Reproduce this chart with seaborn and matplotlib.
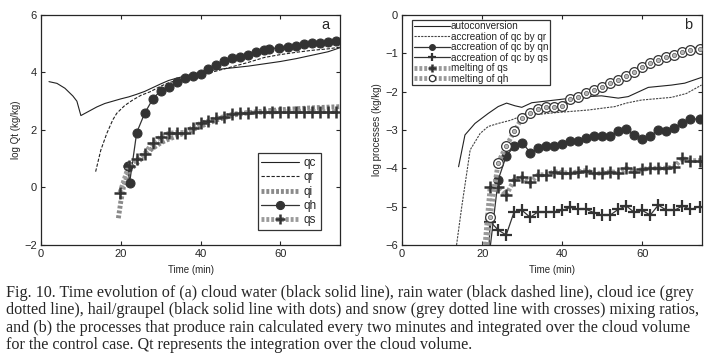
import matplotlib
matplotlib.use('Agg')
import matplotlib.pyplot as plt
import seaborn as sns

# ---- panel (a): log Qt ----
t_qc = [2, 4, 6, 8, 9, 10, 12, 14, 16, 18, 20, 22, 24, 26, 28, 30, 32, 34, 36, 40, 44, 48, 52, 56, 60, 64, 68, 72, 75]
qc = [3.68, 3.62, 3.45, 3.18, 3.0, 2.5, 2.65, 2.8, 2.92, 3.0, 3.08, 3.15, 3.24, 3.34, 3.47, 3.6, 3.72, 3.8, 3.87, 4.0, 4.1, 4.16, 4.22, 4.3, 4.38, 4.48, 4.6, 4.72, 4.86]

t_qr = [13.7, 15, 16.5, 18, 19, 21, 23, 25, 27.4, 30, 32, 36, 40, 44, 48, 52, 56, 60, 64, 68, 72, 75]
qr = [0.55, 1.3, 1.88, 2.35, 2.58, 2.85, 3.04, 3.2, 3.33, 3.52, 3.64, 3.8, 3.91, 4.05, 4.2, 4.35, 4.52, 4.62, 4.7, 4.77, 4.82, 4.88]

t_qi = [19.4, 20, 20.7, 21.5, 22.3, 24, 26, 27.4, 30, 31.5, 35.7, 39.9, 44.1, 48.3, 52, 56.7, 62, 68, 75]
qi = [-1.07, -0.5, 0.03, 0.35, 0.6, 0.84, 1.12, 1.3, 1.55, 1.65, 1.88, 2.12, 2.35, 2.52, 2.6, 2.67, 2.72, 2.77, 2.81]

t_qh = [21.8, 22.2, 24, 26, 28, 30, 32, 34, 36, 38, 40, 42, 44, 46, 48, 50, 52, 54, 56, 57.2, 59.6, 62, 64, 66, 68, 70, 72, 74]
qh = [0.76, 0.14, 1.91, 2.58, 3.07, 3.37, 3.48, 3.66, 3.8, 3.88, 3.95, 4.11, 4.26, 4.4, 4.49, 4.55, 4.62, 4.72, 4.78, 4.82, 4.86, 4.9, 4.93, 4.98, 5.01, 5.01, 5.05, 5.11]

t_qs = [19.8, 22, 24, 26, 28, 30, 32, 34, 36, 38, 40, 42, 44, 46, 48, 50, 52, 54, 56, 58, 60, 62, 64, 66, 68, 70, 72, 74]
qs = [-0.18, 0.76, 0.98, 1.17, 1.56, 1.75, 1.88, 1.91, 1.91, 2.08, 2.23, 2.31, 2.41, 2.46, 2.55, 2.58, 2.6, 2.61, 2.62, 2.63, 2.64, 2.64, 2.64, 2.64, 2.64, 2.64, 2.64, 2.64]

# ---- panel (b): log processes ----
t_auto = [14.1, 15.7, 18.2, 21.5, 24, 26.1, 28.2, 29.9, 32.4, 38.2, 42.3, 46.5, 49.8, 54, 56.5, 61.5, 67.3, 70.6, 74.8]
auto = [-3.96, -3.13, -2.83, -2.57, -2.39, -2.3, -2.37, -2.41, -2.29, -2.22, -2.17, -2.13, -2.11, -2.17, -2.13, -1.89, -1.83, -1.78, -1.63]

t_accr = [13.6, 14.9, 17, 19.5, 21.5, 24, 27, 29, 32.4, 38.2, 46.5, 53.2, 56, 59.8, 67.3, 71, 74.8]
accr = [-6.0, -5.0, -3.52, -3.09, -2.91, -2.83, -2.75, -2.67, -2.61, -2.55, -2.48, -2.39, -2.3, -2.22, -2.15, -2.05, -1.83]

t_qn = [21.5, 24, 26, 28, 30, 32, 34, 36, 38, 40, 42, 44, 46, 48, 50, 52, 54, 56, 58, 60, 62, 64, 66, 68, 70, 72, 74.5]
accr_qn = [-6.5, -4.3, -3.68, -3.43, -3.33, -3.59, -3.48, -3.43, -3.41, -3.37, -3.28, -3.3, -3.22, -3.16, -3.17, -3.16, -3.02, -2.97, -3.13, -3.24, -3.16, -3.0, -3.04, -2.94, -2.83, -2.72, -2.71]

t_qsb = [21.5, 22, 24, 26, 28, 30, 32, 34, 36, 38, 40, 42, 44, 46, 48, 50, 52, 54, 56, 58, 60, 62, 64, 66, 68, 70, 72, 74.5]
accr_qs = [-6.5, -5.39, -5.61, -5.74, -5.13, -5.1, -5.28, -5.13, -5.15, -5.13, -5.1, -5.02, -5.07, -5.07, -5.16, -5.22, -5.22, -5.07, -4.98, -5.15, -5.1, -5.22, -4.96, -5.09, -5.1, -4.98, -5.07, -5.0]

t_mqs = [20.3, 22, 24, 26, 28, 30, 32, 34, 36, 38, 40, 42, 44, 46, 48, 50, 52, 54, 56, 58, 60, 62, 64, 66, 68, 70, 72, 74.5]
melt_qs = [-6.5, -4.48, -4.48, -4.7, -4.3, -4.24, -4.37, -4.17, -4.17, -4.09, -4.11, -4.13, -4.09, -4.06, -4.13, -4.13, -4.09, -4.11, -4.0, -4.09, -4.03, -4.0, -4.0, -4.0, -3.96, -3.74, -3.8, -3.8]

t_mqh = [20.5, 22, 24, 26, 28, 30, 32, 34, 36, 38, 40, 42, 44, 46, 48, 50, 52, 54, 56, 58, 60, 62, 64, 66, 68, 70, 72, 74.5]
melt_qh = [-6.5, -5.26, -3.85, -3.43, -3.04, -2.68, -2.55, -2.46, -2.39, -2.41, -2.37, -2.2, -2.13, -2.04, -1.96, -1.87, -1.78, -1.7, -1.59, -1.48, -1.35, -1.26, -1.17, -1.1, -1.04, -0.96, -0.91, -0.89]

caption = ("Fig. 10. Time evolution of (a) cloud water (black solid line), rain water (black dashed line), cloud ice (grey\n"
           "dotted line), hail/graupel (black solid line with dots) and snow (grey dotted line with crosses) mixing ratios,\n"
           "and (b) the processes that produce rain calculated every two minutes and integrated over the cloud volume\n"
           "for the control case. Qt represents the integration over the cloud volume.")

sns.set_style('ticks')
plt.rcParams['font.family'] = ['Liberation Sans', 'DejaVu Sans']

fig = plt.figure(figsize=(7.13, 3.64), dpi=100)
ax1 = fig.add_axes([0.0575, 0.327, 0.4195, 0.632])
ax2 = fig.add_axes([0.564, 0.327, 0.421, 0.632])

hatch = (0, (0.6, 0.4))

# panel a
sns.lineplot(x=t_qc, y=qc, ax=ax1, color='#222222', linewidth=0.8, label='qc')
sns.lineplot(x=t_qr, y=qr, ax=ax1, color='#222222', linewidth=0.8, linestyle=(0, (3, 1.5)), label='qr')
sns.lineplot(x=t_qi, y=qi, ax=ax1, color='#8a8a8a', linewidth=3.5, linestyle=hatch, label='qi')
sns.lineplot(x=t_qh, y=qh, ax=ax1, color='#333333', linewidth=0.9, marker='o', markersize=6.5,
             markeredgecolor='#333333', label='qh')
sns.lineplot(x=t_qs, y=qs, ax=ax1, color='#9a9a9a', linewidth=3.5, linestyle=hatch, marker='+',
             markersize=8, markeredgewidth=1.8, markeredgecolor='#333333', label='qs')
ax1.set_xlim(0, 75)
ax1.set_ylim(-2, 6)
ax1.set_xticks([0, 20, 40, 60])
ax1.set_yticks([-2, 0, 2, 4, 6])
ax1.set_xlabel('Time (min)', fontsize=7)
ax1.set_ylabel('log Qt (kg/kg)', fontsize=7, labelpad=2)
ax1.text(0.965, 0.985, 'a', transform=ax1.transAxes, ha='right', va='top', fontsize=10.5)
leg1 = ax1.legend(loc='lower right', bbox_to_anchor=(0.935, 0.065), fontsize=8.5, frameon=True, fancybox=False,
                  edgecolor='black', handlelength=3.2, handletextpad=0.4, labelspacing=0.2, borderpad=0.3,
                  borderaxespad=0, markerscale=0.9)
leg1.get_frame().set_linewidth(0.9)

# panel b
sns.lineplot(x=t_auto, y=auto, ax=ax2, color='#222222', linewidth=0.8, label='autoconversion')
sns.lineplot(x=t_accr, y=accr, ax=ax2, color='#444444', linewidth=0.8, linestyle=(0, (2, 1)),
             label='accreation of qc by qr')
sns.lineplot(x=t_qn, y=accr_qn, ax=ax2, color='#333333', linewidth=0.9, marker='o', markersize=6.5,
             markeredgecolor='#333333', label='accreation of qc by qn')
sns.lineplot(x=t_qsb, y=accr_qs, ax=ax2, color='#333333', linewidth=0.9, marker='+', markersize=8,
             markeredgewidth=1.6, markeredgecolor='#333333', label='accreation of qc by qs')
sns.lineplot(x=t_mqs, y=melt_qs, ax=ax2, color='#9a9a9a', linewidth=3.5, linestyle=hatch, marker='+',
             markersize=8, markeredgewidth=1.8, markeredgecolor='#333333', label='melting of qs')
sns.lineplot(x=t_mqh, y=melt_qh, ax=ax2, color='#9a9a9a', linewidth=3.5, linestyle=hatch, marker='o',
             markersize=7, markerfacecolor='white', markeredgecolor='#333333', markeredgewidth=0.9,
             label='melting of qh')
# inner ring of the double-circle markers
sns.scatterplot(x=t_mqh[1:], y=melt_qh[1:], ax=ax2, marker='o', s=9, facecolor='#bbbbbb',
                edgecolor='#555555', linewidth=0.5, legend=False, zorder=5)
ax2.set_xlim(0, 75)
ax2.set_ylim(-6, 0)
ax2.set_xticks([0, 20, 40, 60])
ax2.set_yticks([-6, -5, -4, -3, -2, -1, 0])
ax2.set_xlabel('Time (min)', fontsize=7)
ax2.set_ylabel('log processes (kg/kg)', fontsize=7, labelpad=2)
ax2.text(0.965, 0.985, 'b', transform=ax2.transAxes, ha='right', va='top', fontsize=10.5)
leg2 = ax2.legend(loc='upper left', bbox_to_anchor=(0.033, 0.98), fontsize=7.2, frameon=True, fancybox=False,
                  edgecolor='black', handlelength=3.6, handletextpad=0.1, labelspacing=0.05, borderpad=0.15,
                  borderaxespad=0, markerscale=0.65)
leg2.get_frame().set_linewidth(0.9)

for ax in (ax1, ax2):
    ax.tick_params(direction='in', labelsize=8, length=3, top=True, right=True, pad=3)
    for s in ax.spines.values():
        s.set_linewidth(0.9)
        s.set_visible(True)

fig.text(0.008, 0.218, caption, ha='left', va='top', fontsize=11.6, family=['Liberation Serif', 'DejaVu Serif'],
         linespacing=1.12)

fig.savefig('out.png', dpi=100)
